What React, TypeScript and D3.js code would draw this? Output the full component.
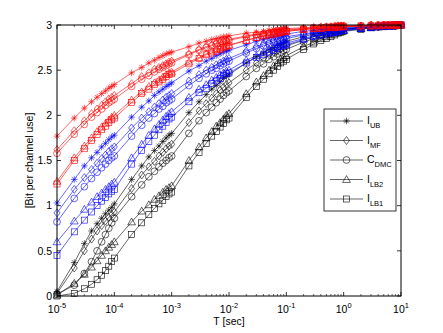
import React from 'react';
import * as d3 from 'd3';

// sample times (s): 1..9 x 10^k
const T = [
  1e-5, 2e-5, 3e-5, 4e-5, 5e-5, 6e-5, 7e-5, 8e-5, 9e-5,
  1e-4, 2e-4, 3e-4, 4e-4, 5e-4, 6e-4, 7e-4, 8e-4, 9e-4,
  1e-3, 2e-3, 3e-3, 4e-3, 5e-3, 6e-3, 7e-3, 8e-3, 9e-3,
  1e-2, 2e-2, 3e-2, 4e-2, 5e-2, 6e-2, 7e-2, 8e-2, 9e-2,
  1e-1, 2e-1, 3e-1, 4e-1, 5e-1, 6e-1, 7e-1, 8e-1, 9e-1,
  1, 2, 3, 4, 5, 6, 7, 8, 9,
  10,
];

// red group
const redUB = [1.77, 1.97, 2.08, 2.15, 2.20, 2.24, 2.27, 2.30, 2.32, 2.34, 2.47, 2.53, 2.58, 2.61, 2.64, 2.66, 2.68, 2.69, 2.70, 2.76, 2.80, 2.82, 2.84, 2.85, 2.86, 2.87, 2.87, 2.88, 2.91, 2.92, 2.93, 2.94, 2.95, 2.95, 2.95, 2.96, 2.96, 2.97, 2.98, 2.98, 2.98, 2.98, 2.99, 2.99, 2.99, 2.99, 2.99, 3.00, 3.00, 3.00, 3.00, 3.00, 3.00, 3.00, 3.00];
const redMF = [1.62, 1.83, 1.94, 2.02, 2.07, 2.11, 2.15, 2.18, 2.20, 2.22, 2.35, 2.43, 2.47, 2.51, 2.53, 2.55, 2.57, 2.59, 2.60, 2.68, 2.73, 2.76, 2.78, 2.80, 2.81, 2.82, 2.83, 2.84, 2.88, 2.90, 2.91, 2.92, 2.93, 2.94, 2.94, 2.95, 2.95, 2.96, 2.97, 2.98, 2.98, 2.98, 2.99, 2.99, 2.99, 2.99, 2.99, 3.00, 3.00, 3.00, 3.00, 3.00, 3.00, 3.00, 3.00];
const redDMC = [1.58, 1.79, 1.90, 1.98, 2.03, 2.07, 2.11, 2.14, 2.16, 2.18, 2.32, 2.40, 2.44, 2.48, 2.51, 2.53, 2.55, 2.57, 2.58, 2.67, 2.72, 2.75, 2.77, 2.79, 2.80, 2.81, 2.82, 2.83, 2.87, 2.89, 2.90, 2.91, 2.92, 2.93, 2.93, 2.94, 2.94, 2.96, 2.97, 2.97, 2.98, 2.98, 2.98, 2.99, 2.99, 2.99, 2.99, 3.00, 3.00, 3.00, 3.00, 3.00, 3.00, 3.00, 3.00];
const redLB2 = [1.27, 1.53, 1.66, 1.75, 1.82, 1.87, 1.91, 1.95, 1.98, 2.00, 2.17, 2.26, 2.32, 2.36, 2.39, 2.42, 2.45, 2.47, 2.48, 2.59, 2.64, 2.68, 2.71, 2.73, 2.74, 2.76, 2.77, 2.78, 2.83, 2.86, 2.88, 2.89, 2.90, 2.91, 2.92, 2.93, 2.93, 2.95, 2.96, 2.96, 2.97, 2.97, 2.97, 2.98, 2.98, 2.98, 2.99, 2.99, 2.99, 3.00, 3.00, 3.00, 3.00, 3.00, 3.00];
const redLB1 = [1.24, 1.50, 1.63, 1.72, 1.79, 1.84, 1.88, 1.92, 1.95, 1.97, 2.14, 2.24, 2.29, 2.34, 2.37, 2.40, 2.43, 2.45, 2.46, 2.57, 2.63, 2.67, 2.69, 2.71, 2.73, 2.75, 2.76, 2.77, 2.83, 2.86, 2.88, 2.89, 2.90, 2.91, 2.92, 2.93, 2.93, 2.95, 2.96, 2.96, 2.97, 2.97, 2.97, 2.98, 2.98, 2.98, 2.99, 2.99, 2.99, 3.00, 3.00, 3.00, 3.00, 3.00, 3.00];

// blue group
const blueUB = [1.03, 1.29, 1.44, 1.53, 1.59, 1.65, 1.69, 1.73, 1.76, 1.78, 1.98, 2.09, 2.16, 2.22, 2.26, 2.29, 2.32, 2.34, 2.36, 2.49, 2.55, 2.60, 2.63, 2.66, 2.68, 2.70, 2.71, 2.72, 2.78, 2.82, 2.84, 2.86, 2.87, 2.88, 2.89, 2.89, 2.90, 2.93, 2.94, 2.95, 2.95, 2.96, 2.96, 2.97, 2.97, 2.97, 2.98, 2.99, 2.99, 2.99, 2.99, 3.00, 3.00, 3.00, 3.00];
const blueMF = [0.92, 1.18, 1.31, 1.40, 1.47, 1.52, 1.56, 1.60, 1.63, 1.65, 1.86, 1.97, 2.04, 2.09, 2.13, 2.17, 2.20, 2.22, 2.24, 2.38, 2.45, 2.50, 2.53, 2.56, 2.58, 2.60, 2.62, 2.63, 2.71, 2.76, 2.79, 2.81, 2.83, 2.84, 2.85, 2.86, 2.87, 2.90, 2.92, 2.93, 2.94, 2.94, 2.95, 2.95, 2.96, 2.96, 2.97, 2.98, 2.99, 2.99, 2.99, 2.99, 3.00, 3.00, 3.00];
const blueDMC = [0.82, 1.08, 1.21, 1.30, 1.37, 1.42, 1.46, 1.50, 1.53, 1.55, 1.77, 1.89, 1.97, 2.02, 2.07, 2.10, 2.14, 2.16, 2.18, 2.33, 2.41, 2.46, 2.50, 2.52, 2.55, 2.57, 2.59, 2.60, 2.69, 2.74, 2.77, 2.79, 2.81, 2.82, 2.83, 2.84, 2.85, 2.89, 2.91, 2.92, 2.93, 2.94, 2.95, 2.95, 2.96, 2.96, 2.97, 2.98, 2.99, 2.99, 2.99, 2.99, 3.00, 3.00, 3.00];
const blueLB2 = [0.60, 0.83, 0.96, 1.04, 1.10, 1.14, 1.18, 1.21, 1.24, 1.26, 1.53, 1.68, 1.78, 1.85, 1.90, 1.95, 1.99, 2.02, 2.04, 2.20, 2.29, 2.34, 2.39, 2.42, 2.45, 2.47, 2.49, 2.50, 2.61, 2.66, 2.70, 2.73, 2.75, 2.76, 2.78, 2.79, 2.80, 2.85, 2.88, 2.89, 2.91, 2.92, 2.92, 2.93, 2.94, 2.94, 2.96, 2.97, 2.98, 2.99, 2.99, 2.99, 3.00, 3.00, 3.00];
const blueLB1 = [0.45, 0.71, 0.84, 0.93, 1.00, 1.05, 1.09, 1.13, 1.16, 1.18, 1.46, 1.61, 1.71, 1.78, 1.84, 1.88, 1.92, 1.96, 1.98, 2.15, 2.25, 2.30, 2.35, 2.38, 2.41, 2.44, 2.46, 2.47, 2.58, 2.64, 2.67, 2.70, 2.72, 2.74, 2.76, 2.77, 2.78, 2.84, 2.87, 2.89, 2.90, 2.91, 2.92, 2.93, 2.94, 2.94, 2.96, 2.97, 2.98, 2.99, 2.99, 2.99, 3.00, 3.00, 3.00];

// black group
const blackUB = [0.05, 0.37, 0.58, 0.72, 0.80, 0.86, 0.91, 0.95, 0.98, 1.02, 1.29, 1.44, 1.54, 1.61, 1.66, 1.71, 1.75, 1.78, 1.80, 2.03, 2.15, 2.23, 2.29, 2.33, 2.37, 2.41, 2.43, 2.45, 2.58, 2.65, 2.69, 2.73, 2.75, 2.78, 2.79, 2.81, 2.82, 2.87, 2.90, 2.91, 2.93, 2.93, 2.94, 2.95, 2.96, 2.96, 2.97, 2.98, 2.99, 2.99, 2.99, 2.99, 3.00, 3.00, 3.00];
const blackMF = [0.03, 0.31, 0.50, 0.63, 0.72, 0.78, 0.83, 0.87, 0.90, 0.93, 1.19, 1.34, 1.43, 1.49, 1.55, 1.59, 1.63, 1.66, 1.68, 1.92, 2.05, 2.13, 2.19, 2.24, 2.28, 2.31, 2.34, 2.36, 2.50, 2.58, 2.63, 2.67, 2.70, 2.72, 2.74, 2.76, 2.77, 2.83, 2.87, 2.89, 2.91, 2.92, 2.93, 2.94, 2.94, 2.95, 2.97, 2.98, 2.98, 2.99, 2.99, 2.99, 2.99, 3.00, 3.00];
const blackDMC = [0.02, 0.12, 0.25, 0.38, 0.50, 0.60, 0.68, 0.75, 0.81, 0.86, 1.10, 1.23, 1.32, 1.38, 1.43, 1.47, 1.50, 1.53, 1.55, 1.80, 1.94, 2.03, 2.09, 2.14, 2.18, 2.22, 2.25, 2.27, 2.43, 2.52, 2.57, 2.62, 2.65, 2.68, 2.70, 2.72, 2.73, 2.81, 2.85, 2.88, 2.90, 2.91, 2.92, 2.94, 2.94, 2.95, 2.97, 2.98, 2.98, 2.99, 2.99, 2.99, 2.99, 3.00, 3.00];
const blackLB2 = [0.01, 0.14, 0.24, 0.32, 0.39, 0.45, 0.50, 0.54, 0.57, 0.60, 0.82, 0.94, 1.01, 1.07, 1.11, 1.15, 1.18, 1.20, 1.22, 1.50, 1.65, 1.75, 1.82, 1.88, 1.92, 1.96, 2.00, 2.02, 2.24, 2.37, 2.44, 2.50, 2.55, 2.58, 2.62, 2.64, 2.66, 2.76, 2.81, 2.85, 2.87, 2.89, 2.91, 2.92, 2.93, 2.94, 2.96, 2.97, 2.98, 2.99, 2.99, 2.99, 3.00, 3.00, 3.00];
const blackLB1 = [0.00, 0.03, 0.08, 0.13, 0.18, 0.23, 0.28, 0.33, 0.38, 0.42, 0.68, 0.81, 0.90, 0.97, 1.02, 1.06, 1.10, 1.13, 1.15, 1.44, 1.59, 1.69, 1.77, 1.82, 1.87, 1.91, 1.95, 1.97, 2.20, 2.32, 2.40, 2.46, 2.50, 2.54, 2.58, 2.60, 2.62, 2.73, 2.79, 2.83, 2.85, 2.87, 2.89, 2.91, 2.92, 2.93, 2.95, 2.97, 2.98, 2.98, 2.99, 2.99, 2.99, 3.00, 3.00];

const markerKinds = ['star', 'diamond', 'circle', 'triangle', 'square'];
const legendLabels = [['I', 'UB'], ['I', 'MF'], ['C', 'DMC'], ['I', 'LB2'], ['I', 'LB1']];
const xTickExps = [-5, -4, -3, -2, -1, 0, 1];
const yTicks = [0, 0.5, 1, 1.5, 2, 2.5, 3];

const groups = [
  { color: '#000000', series: [blackUB, blackMF, blackDMC, blackLB2, blackLB1] },
  { color: '#0000ff', series: [blueUB, blueMF, blueDMC, blueLB2, blueLB1] },
  { color: '#ff0000', series: [redUB, redMF, redDMC, redLB2, redLB1] },
];

const W = 443;
const H = 333;
const margin = { left: 57, right: 42, top: 25, bottom: 37 };

function Marker({ kind, x, y, color }: { kind: string; x: number; y: number; color: string }) {
  const p = { fill: 'none', stroke: color, strokeWidth: 0.6 };
  if (kind === 'star') {
    const r = 3.3, d = r * 0.7071;
    return (
      <path {...p} d={`M${x - r},${y}H${x + r}M${x},${y - r}V${y + r}M${x - d},${y - d}L${x + d},${y + d}M${x - d},${y + d}L${x + d},${y - d}`} />
    );
  }
  if (kind === 'diamond') {
    const r = 4;
    return <path {...p} d={`M${x},${y - r}L${x + r * 0.75},${y}L${x},${y + r}L${x - r * 0.75},${y}Z`} />;
  }
  if (kind === 'circle') return <circle {...p} cx={x} cy={y} r={3.4} />;
  if (kind === 'triangle') {
    const r = 3.9;
    return <path {...p} d={`M${x},${y - r}L${x + r},${y + r * 0.75}L${x - r},${y + r * 0.75}Z`} />;
  }
  return <rect {...p} x={x - 3} y={y - 3} width={6} height={6} />;
}

export default function App() {
  const x = d3.scaleLog().domain([1e-5, 10]).range([margin.left, W - margin.right]);
  const y = d3.scaleLinear().domain([0, 3]).range([H - margin.bottom, margin.top]);
  const line = d3.line<number>().x((_, i) => x(T[i])).y((d) => y(d));

  const x0 = x.range()[0], x1 = x.range()[1];
  const y0 = y.range()[0], y1 = y.range()[1];

  const minorTicks: number[] = [];
  xTickExps.slice(0, -1).forEach((e) => {
    for (let k = 2; k <= 9; k++) minorTicks.push(k * Math.pow(10, e));
  });

  const font = 'Liberation Sans, Arial, sans-serif';

  const legX = 324, legY = 109, legW = 72, legH = 102;
  const legRow = d3.scaleLinear().domain([0, 4]).range([legY + 12, legY + 90]);

  return (
    <svg width={W} height={H} style={{ position: 'absolute', left: 0, top: 0, background: '#fff' }} fontFamily={font}>
      <rect x={0} y={0} width={W} height={H} fill="#fff" />

      {groups.map((g, gi) =>
        g.series.map((s, si) => (
          <g key={`${gi}-${si}`}>
            <path d={line(s) || ''} fill="none" stroke={g.color} strokeWidth={0.6} />
            {s.map((v, i) => (
              <Marker key={i} kind={markerKinds[si]} x={x(T[i])} y={y(v)} color={g.color} />
            ))}
          </g>
        ))
      )}

      {/* axes box */}
      <rect x={x0} y={y1} width={x1 - x0} height={y0 - y1} fill="none" stroke="#000" strokeWidth={1} />

      {/* x ticks */}
      {xTickExps.map((e) => {
        const px = x(Math.pow(10, e));
        return (
          <g key={e}>
            <line x1={px} x2={px} y1={y0} y2={y0 - 4} stroke="#000" strokeWidth={0.8} />
            <line x1={px} x2={px} y1={y1} y2={y1 + 4} stroke="#000" strokeWidth={0.8} />
            <text x={px} y={313} textAnchor="middle" fontSize={10.5}>
              10<tspan dy={-5} fontSize={7.5}>{e}</tspan>
            </text>
          </g>
        );
      })}
      {minorTicks.map((t, i) => {
        const px = x(t);
        return (
          <g key={i}>
            <line x1={px} x2={px} y1={y0} y2={y0 - 2} stroke="#000" strokeWidth={0.6} />
            <line x1={px} x2={px} y1={y1} y2={y1 + 2} stroke="#000" strokeWidth={0.6} />
          </g>
        );
      })}

      {/* y ticks */}
      {yTicks.map((t) => {
        const py = y(t);
        return (
          <g key={t}>
            <line x1={x0} x2={x0 + 4} y1={py} y2={py} stroke="#000" strokeWidth={0.8} />
            <line x1={x1} x2={x1 - 4} y1={py} y2={py} stroke="#000" strokeWidth={0.8} />
            <text x={52} y={py} dy="0.35em" textAnchor="end" fontSize={10.5}>
              {t}
            </text>
          </g>
        );
      })}

      <text x={(x0 + x1) / 2} y={325} textAnchor="middle" fontSize={10.5}>
        T [sec]
      </text>
      <text transform={`translate(33, ${(y0 + y1) / 2}) rotate(-90)`} textAnchor="middle" fontSize={10.5}>
        [Bit per channel use]
      </text>

      {/* legend */}
      <rect x={legX} y={legY} width={legW} height={legH} fill="#fff" stroke="#000" strokeWidth={0.8} />
      {legendLabels.map((lab, i) => {
        const py = legRow(i);
        return (
          <g key={i}>
            <line x1={330} x2={363} y1={py} y2={py} stroke="#000" strokeWidth={0.6} />
            <Marker kind={markerKinds[i]} x={346.5} y={py} color="#000" />
            <text x={367} y={py + 3} fontSize={10.5}>
              {lab[0]}
              <tspan dy={4} fontSize={7.5}>{lab[1]}</tspan>
            </text>
          </g>
        );
      })}
    </svg>
  );
}
